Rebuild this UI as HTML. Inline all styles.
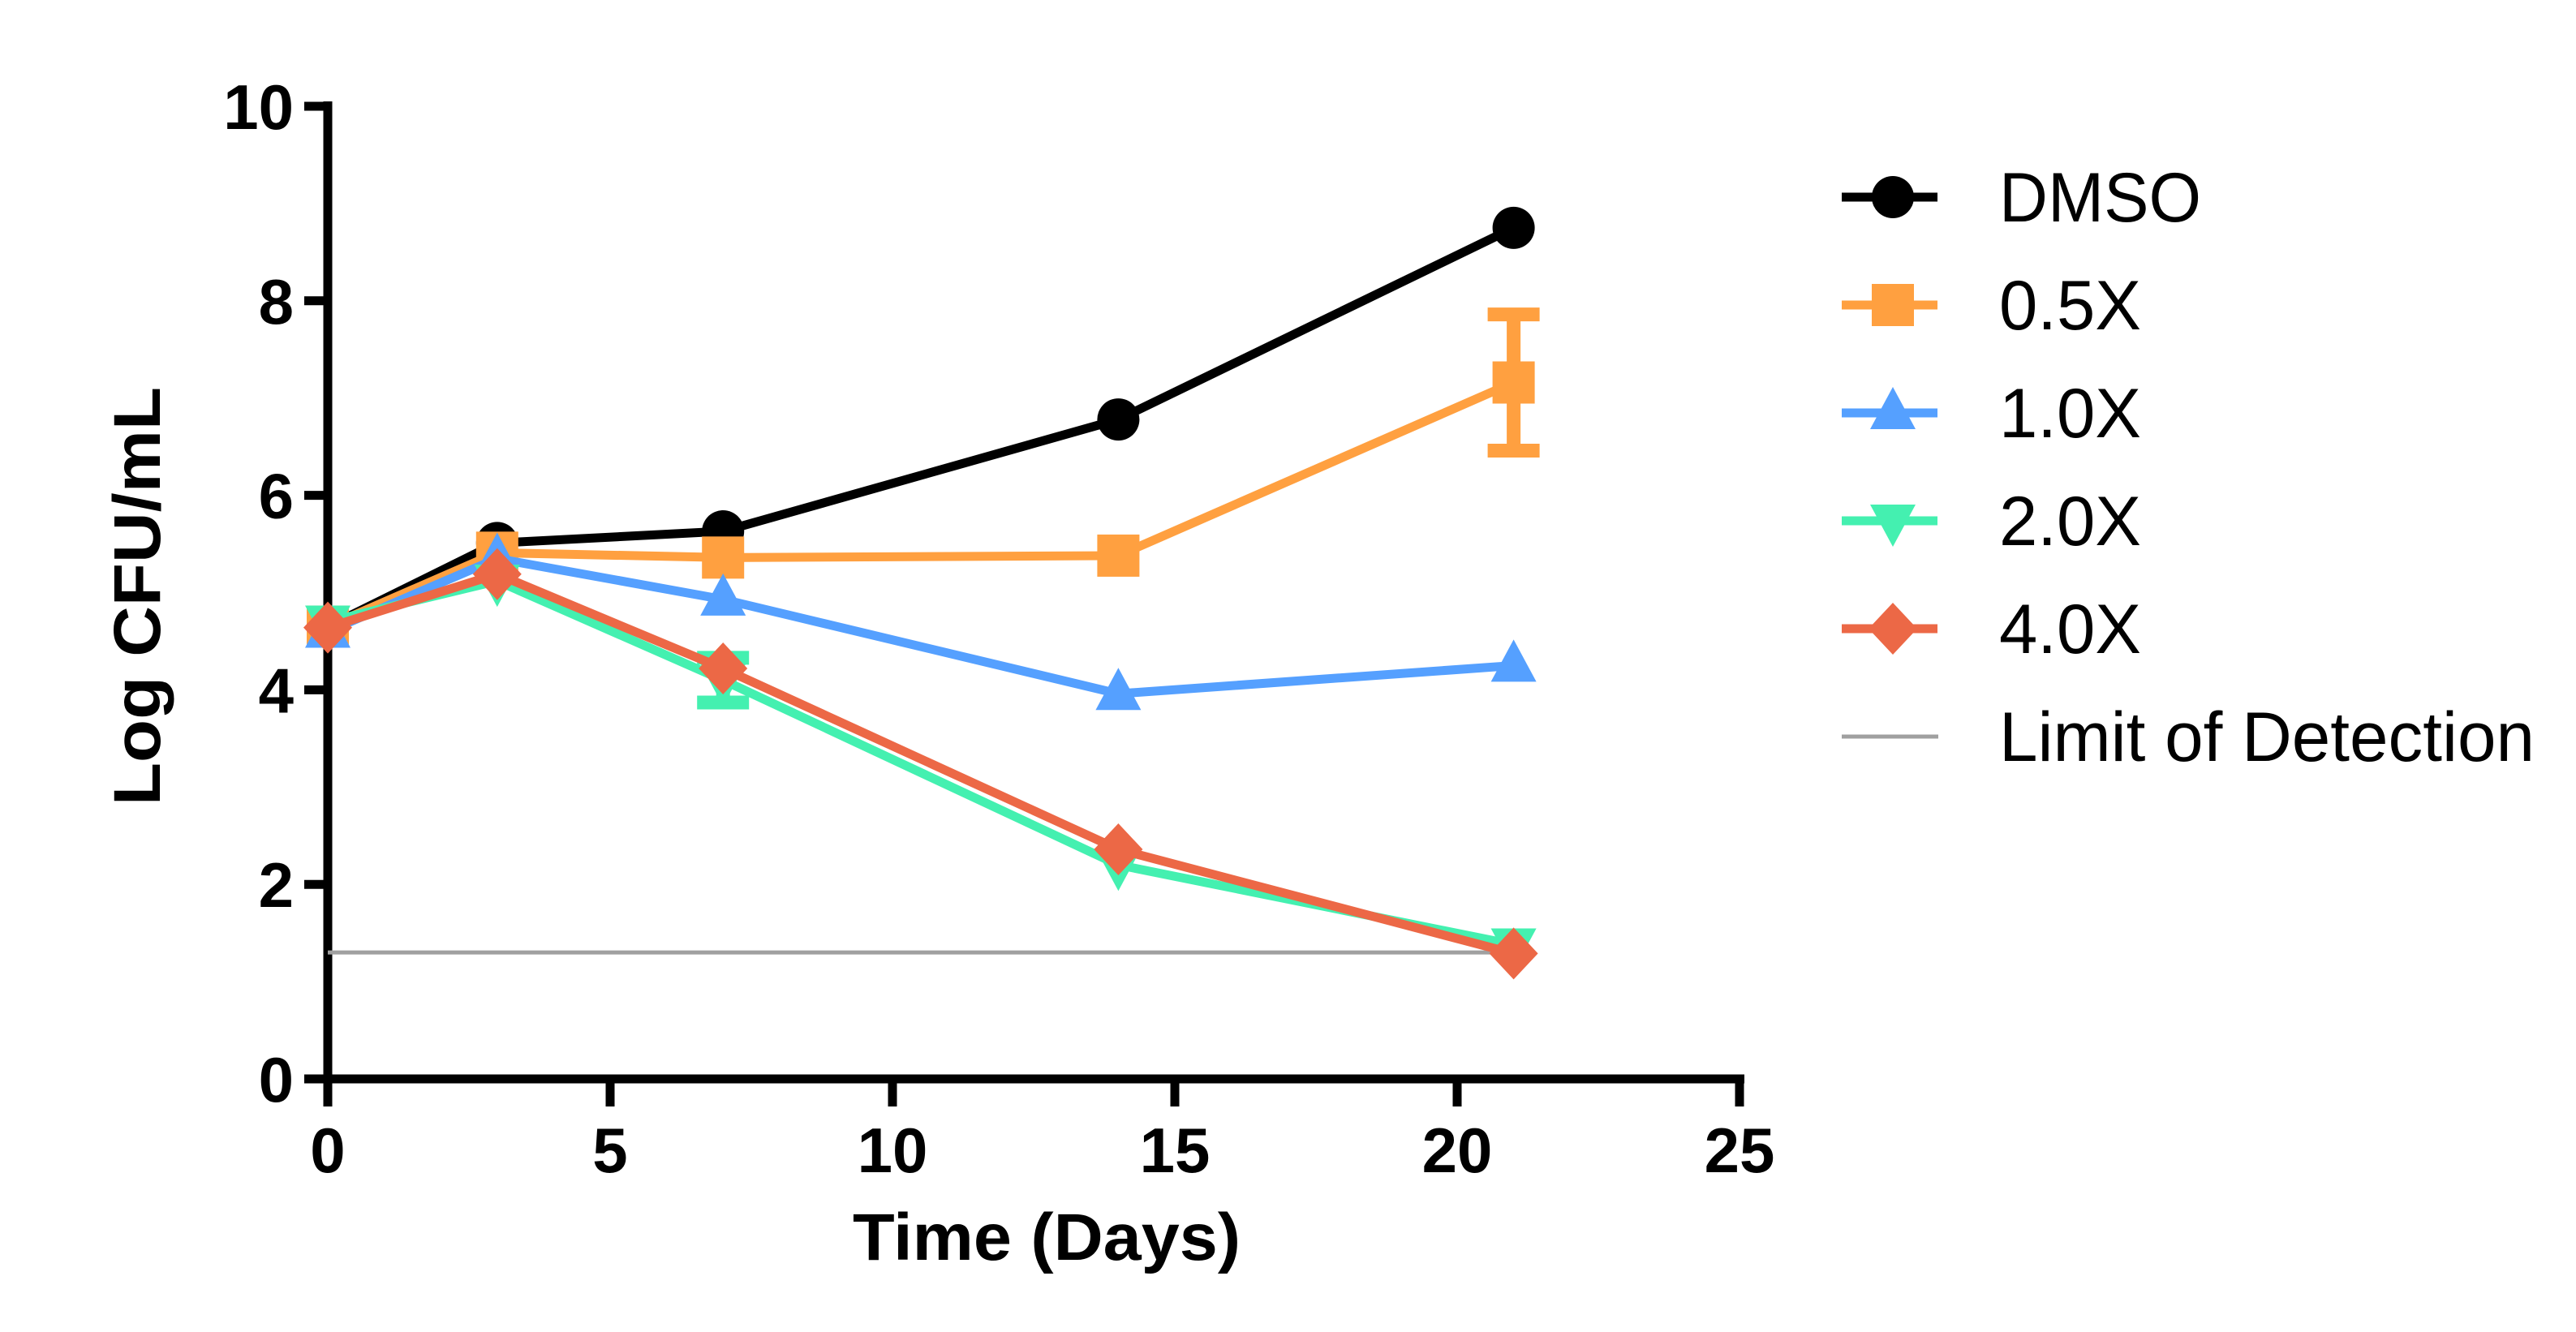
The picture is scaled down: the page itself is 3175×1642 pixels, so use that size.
<!DOCTYPE html>
<html><head><meta charset="utf-8">
<style>
html,body{margin:0;padding:0;background:#fff;}
svg{display:block;}
text{font-family:"Liberation Sans",Arial,sans-serif;}
</style></head>
<body>
<svg id="chart" width="3175" height="1642" viewBox="0 0 3175 1642" xmlns="http://www.w3.org/2000/svg">
<g id="axes"></g>
<g id="plot"></g>
<g id="legend"></g>
</svg>
<script>
const days = [0, 3, 7, 14, 21];
const seriesNames = ["DMSO", "0.5X", "1.0X", "2.0X", "4.0X"];
const dmso = [4.65, 5.51, 5.63, 6.78, 8.75];
const x05 = [4.65, 5.41, 5.36, 5.38, 7.16];
const x10 = [4.6, 5.35, 4.93, 3.96, 4.25];
const x20 = [4.7, 5.12, 4.1, 2.2, 1.38];
const x40 = [4.64, 5.19, 4.22, 2.36, 1.29];
const err05 = [0, 0, 0, 0, 0.7];
const err20 = [0, 0, 0.23, 0, 0];
const lodValue = 1.3;
const xTicks = [0, 5, 10, 15, 20, 25];
const yTicks = [0, 2, 4, 6, 8, 10];

const NS = "http://www.w3.org/2000/svg";
const X0 = 404, X1 = 2144, Y0 = 1330, Y1 = 131;
const xs = v => X0 + (v - 0) / 25 * (X1 - X0);
const ys = v => Y0 - (v - 0) / 10 * (Y0 - Y1);
function mk(tag, attrs, parent) {
  const e = document.createElementNS(NS, tag);
  for (const k in attrs) e.setAttribute(k, attrs[k]);
  parent.appendChild(e);
  return e;
}
const axes = document.getElementById('axes');
const plot = document.getElementById('plot');
const legend = document.getElementById('legend');

let a = mk('line', {x1: X0, y1: Y1 - 6, x2: X0, y2: Y0 + 6, stroke: '#000', 'stroke-width': 11}, axes);


a = mk('line', {x1: X0 - 6, y1: Y0, x2: X1 + 6, y2: Y0, stroke: '#000', 'stroke-width': 11}, axes);


yTicks.forEach(t => {
  const y = ys(t);
  const l = mk('line', {x1: 375, y1: y, x2: X0, y2: y, stroke: '#000', 'stroke-width': 11}, axes);
  
  
  const tx = mk('text', {x: 362, y: y + 28, 'text-anchor': 'end', 'font-size': 78, 'font-weight': 'bold'}, axes);
  tx.textContent = t;
  
  
});
xTicks.forEach(t => {
  const x = xs(t);
  const l = mk('line', {x1: x, y1: Y0, x2: x, y2: 1364, stroke: '#000', 'stroke-width': 11}, axes);
  
  
  const tx = mk('text', {x: x, y: 1445, 'text-anchor': 'middle', 'font-size': 78, 'font-weight': 'bold'}, axes);
  tx.textContent = t;
  
  
});
let tt = mk('text', {x: 1290, y: 1553, 'text-anchor': 'middle', 'font-size': 82, 'font-weight': 'bold', textLength: 478, lengthAdjust: 'spacingAndGlyphs'}, axes);
tt.textContent = 'Time (Days)';


tt = mk('text', {x: 0, y: 0, 'text-anchor': 'middle', 'font-size': 82, 'font-weight': 'bold', textLength: 516, lengthAdjust: 'spacingAndGlyphs', transform: 'translate(197,735) rotate(-90)'}, axes);
tt.textContent = 'Log CFU/mL';



function marker(kind, cx, cy, color, parent) {
  let e;
  if (kind === 'circle') e = mk('circle', {cx: cx, cy: cy, r: 26, fill: color}, parent);
  else if (kind === 'square') e = mk('rect', {x: cx - 26, y: cy - 26, width: 52, height: 52, fill: color}, parent);
  else if (kind === 'tri') e = mk('polygon', {points: `${cx},${cy-32} ${cx+28},${cy+20} ${cx-28},${cy+20}`, fill: color}, parent);
  else if (kind === 'itri') e = mk('polygon', {points: `${cx},${cy+32} ${cx+28},${cy-20} ${cx-28},${cy-20}`, fill: color}, parent);
  else e = mk('polygon', {points: `${cx},${cy-32} ${cx+30},${cy} ${cx},${cy+32} ${cx-30},${cy}`, fill: color}, parent);
  return e;
}

let lod = mk('line', {x1: xs(0), y1: ys(lodValue), x2: xs(21), y2: ys(lodValue), stroke: '#A0A0A0', 'stroke-width': 5}, plot);



const seriesData = [dmso, x05, x10, x20, x40];
const errs = [null, err05, null, err20, null];
const colors = ['#000000', '#FFA040', '#55A0FF', '#44F0B0', '#EC6846'];
const kinds = ['circle', 'square', 'tri', 'itri', 'diamond'];
seriesData.forEach((vals, si) => {
  const g = mk('g', {}, plot);
  
  
  const pts = vals.map((v, i) => xs(days[i]) + ',' + ys(v)).join(' ');
  const pl = mk('polyline', {points: pts, fill: 'none', stroke: colors[si], 'stroke-width': 11, 'stroke-linejoin': 'miter'}, g);
  
  
  if (errs[si]) {
    vals.forEach((v, i) => {
      const e = errs[si][i];
      if (!e) return;
      const x = xs(days[i]);
      const eb = mk('path', {d: `M${x},${ys(v+e)} V${ys(v-e)} M${x-32},${ys(v+e)} H${x+32} M${x-32},${ys(v-e)} H${x+32}`, stroke: colors[si], 'stroke-width': 17, fill: 'none'}, g);
      
      
    });
  }
  vals.forEach((v, i) => {
    const m = marker(kinds[si], xs(days[i]), ys(v), colors[si], g);
    
    
  });
});

const legendLabels = ["DMSO", "0.5X", "1.0X", "2.0X", "4.0X", "Limit of Detection"];
const legendWidths = [249, 175, 175, 175, 175, 660];
legendLabels.forEach((lab, i) => {
  const cy = 243 + i * 133;
  const g = mk('g', {}, legend);
  
  
  if (i < 5) {
    mk('line', {x1: 2270, y1: cy, x2: 2388, y2: cy, stroke: colors[i], 'stroke-width': 11}, g);
    marker(kinds[i], 2333, cy, colors[i], g);
  } else {
    mk('line', {x1: 2270, y1: cy, x2: 2389, y2: cy, stroke: '#A0A0A0', 'stroke-width': 5}, g);
  }
  const t = mk('text', {x: 2464, y: cy + 30, 'font-size': 86, textLength: legendWidths[i], lengthAdjust: 'spacingAndGlyphs'}, g);
  t.textContent = lab;
  
  
});
</script>
</body></html>
